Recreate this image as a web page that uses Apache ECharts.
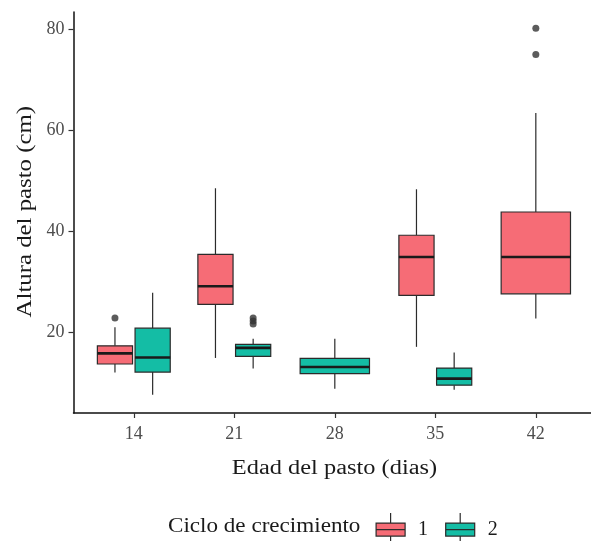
<!DOCTYPE html>
<html>
<head>
<meta charset="utf-8">
<script src="https://cdn.jsdelivr.net/npm/echarts@6/dist/echarts.min.js"></script>
<style>html,body{margin:0;padding:0;background:#fff}#c{width:591px;height:541px}</style>
</head>
<body>
<div id="c"></div>
<script>
// ---- data ----
const categories = ['14', '21', '28', '35', '42'];
// [lower whisker, Q1, median, Q3, upper whisker]; null = no box for that age
const cycle1 = [
  [12.1, 13.8, 15.9, 17.4, 21.1],
  [15.0, 25.6, 29.2, 35.5, 48.6],
  null,
  [17.2, 27.4, 35.0, 39.3, 48.4],
  [22.8, 27.7, 35.0, 43.9, 63.5]
];
const cycle2 = [
  [7.7, 12.2, 15.1, 20.9, 27.9],
  [12.9, 15.3, 17.0, 17.7, 18.8],
  [8.9, 11.9, 13.2, 14.9, 18.8],
  [8.7, 9.6, 10.9, 13.0, 16.1],
  null
];
// outliers: [category index, value]
const outliers1 = [[0, 22.9], [4, 75.1], [4, 80.3]];
const outliers2 = [[1, 21.7], [1, 22.3], [1, 22.9]];
const yTicks = [20, 40, 60, 80];
const seriesNames = ['1', '2'];
const legendTitle = 'Ciclo de crecimiento';
const xTitle = 'Edad del pasto (dias)';
const yTitle = 'Altura del pasto (cm)';

// ---- styling ----
const RED = '#F66C76';
const TEAL = '#14BDA5';
const LINE = '#2b2b2b';
const FONT = '"Liberation Serif", "Times New Roman", serif';

function slot(ci, which) {
  const both = cycle1[ci] && cycle2[ci];
  if (both) return { x: ci + 1 + (which === 0 ? -0.1875 : 0.1875), w: 0.35 };
  return { x: ci + 1, w: 0.69 };
}
function buildBoxes(stats, which) {
  const out = [];
  stats.forEach((s, ci) => {
    if (!s) return;
    const p = slot(ci, which);
    out.push([p.x, s[0], s[1], s[2], s[3], s[4], p.w]);
  });
  return out;
}
function buildOutliers(list, which) {
  return list.map(o => [slot(o[0], which).x, o[1]]);
}

function renderBox(fill) {
  return function (params, api) {
    const x = api.value(0), w = api.value(6);
    const half = api.size([w, 0])[0] / 2;
    const pMin = api.coord([x, api.value(1)]);
    const pQ1 = api.coord([x, api.value(2)]);
    const pMed = api.coord([x, api.value(3)]);
    const pQ3 = api.coord([x, api.value(4)]);
    const pMax = api.coord([x, api.value(5)]);
    const cx = pMed[0];
    return {
      type: 'group',
      children: [
        { type: 'line', shape: { x1: cx, y1: pMax[1], x2: cx, y2: pQ3[1] }, style: { stroke: LINE, lineWidth: 1.2 } },
        { type: 'line', shape: { x1: cx, y1: pQ1[1], x2: cx, y2: pMin[1] }, style: { stroke: LINE, lineWidth: 1.2 } },
        { type: 'rect', shape: { x: cx - half, y: pQ3[1], width: half * 2, height: pQ1[1] - pQ3[1] },
          style: { fill: fill, stroke: LINE, lineWidth: 1.2 } },
        { type: 'line', shape: { x1: cx - half, y1: pMed[1], x2: cx + half, y2: pMed[1] }, style: { stroke: '#1a1a1a', lineWidth: 2.6 } }
      ]
    };
  };
}

const keyPath = 'path://M14.5,0V10M0,10H29V23H0ZM0,16.5H29M14.5,23V33';

const chart = echarts.init(document.getElementById('c'), null, { renderer: 'canvas' });
chart.setOption({
  backgroundColor: '#ffffff',
  animation: false,
  grid: { left: 73.5, right: 0, top: 12, bottom: 128, containLabel: false },
  xAxis: {
    type: 'value', min: 0.4, max: 5.549,
    splitLine: { show: false },
    axisLine: { show: true, lineStyle: { color: '#111', width: 1.5 } },
    axisTick: { show: true, customValues: [1, 2, 3, 4, 5], length: 5, lineStyle: { color: '#333', width: 1.2 } },
    axisLabel: { customValues: [1, 2, 3, 4, 5], formatter: v => categories[Math.round(v) - 1], margin: 12,
      fontFamily: FONT, fontSize: 18, color: '#4d4d4d' }
  },
  yAxis: {
    type: 'value', min: 4.1, max: 83.5,
    splitLine: { show: false },
    axisLine: { show: true, lineStyle: { color: '#111', width: 1.5 } },
    axisTick: { show: true, customValues: yTicks, length: 5, lineStyle: { color: '#333', width: 1.2 } },
    axisLabel: { customValues: yTicks, margin: 9, fontFamily: FONT, fontSize: 18, color: '#4d4d4d' }
  },
  legend: {
    left: 370.5, top: 507.5, orient: 'horizontal',
    itemWidth: 29, itemHeight: 33, itemGap: 17,
    textStyle: { fontFamily: FONT, fontSize: 20, color: '#1a1a1a', padding: [0, 0, 0, 8] },
    data: [
      { name: seriesNames[0], icon: keyPath, itemStyle: { color: RED, borderColor: LINE, borderWidth: 1.2 } },
      { name: seriesNames[1], icon: keyPath, itemStyle: { color: TEAL, borderColor: LINE, borderWidth: 1.2 } }
    ],
    selectedMode: false
  },
  graphic: [
    { type: 'text', x: 26, y: 211.7, rotation: Math.PI / 2,
      style: { text: yTitle, font: '20px ' + FONT, fill: '#1a1a1a', align: 'center', verticalAlign: 'middle' }, scaleX: 1.24 },
    { type: 'text', x: 334.5, y: 469,
      style: { text: xTitle, font: '20px ' + FONT, fill: '#1a1a1a', align: 'center', verticalAlign: 'middle' }, scaleX: 1.22 },
    { type: 'text', x: 168, y: 526.5,
      style: { text: legendTitle, font: '22px ' + FONT, fill: '#1a1a1a', align: 'left', verticalAlign: 'middle' }, scaleX: 1.05 }
  ],
  series: [
    { name: seriesNames[0], type: 'custom', renderItem: renderBox(RED), data: buildBoxes(cycle1, 0),
      itemStyle: { color: RED }, encode: { x: 0, y: [1, 2, 3, 4, 5] } },
    { name: seriesNames[1], type: 'custom', renderItem: renderBox(TEAL), data: buildBoxes(cycle2, 1),
      itemStyle: { color: TEAL }, encode: { x: 0, y: [1, 2, 3, 4, 5] } },
    { name: 'out1', type: 'scatter', data: buildOutliers(outliers1, 0), symbolSize: 7,
      itemStyle: { color: '#333' } },
    { name: 'out2', type: 'scatter', data: buildOutliers(outliers2, 1), symbolSize: 7,
      itemStyle: { color: '#333' } }
  ]
});
</script>
</body>
</html>
